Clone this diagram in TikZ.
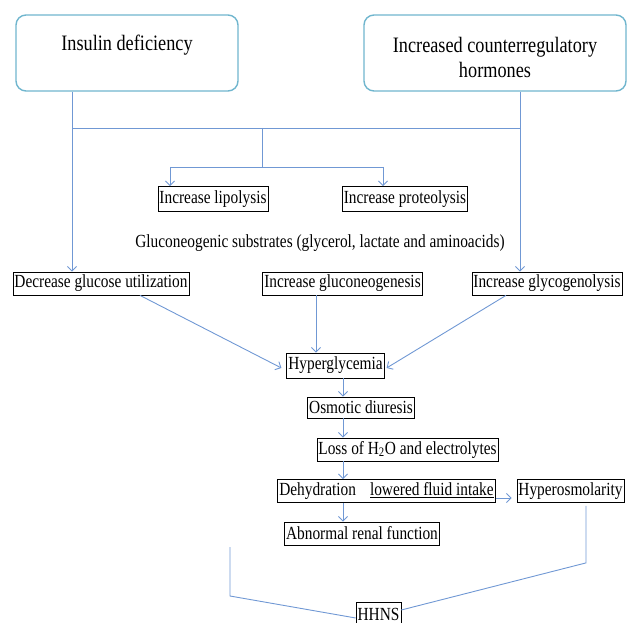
\documentclass[tikz,border=0pt]{standalone}
\usepackage{fontspec}
\setmainfont{Liberation Serif}[FakeStretch=0.83]
\usetikzlibrary{arrows.meta}
\definecolor{lineblue}{RGB}{112,152,212}
\definecolor{topblue}{RGB}{112,182,206}
\begin{document}
\begin{tikzpicture}[x=1pt,y=-1pt,
  box/.style={draw=black, line width=0.8pt, inner xsep=1.5pt, inner ysep=0pt, minimum height=23pt, font=\fontsize{18.5}{20}\selectfont},
  plain/.style={inner sep=0pt, font=\fontsize{18.5}{20}\selectfont},
  topbox/.style={draw=topblue, line width=1.4pt, rounded corners=10pt, minimum height=76pt},
  toptext/.style={inner sep=0pt, align=center, font=\fontsize{22}{25}\selectfont},
  conn/.style={draw=lineblue, line width=0.9pt},
  arr/.style={conn, -{Straight Barb[length=4.5pt,width=9pt]}}]
\useasboundingbox (0,0) rectangle (627,623);
% top boxes
\node[topbox, minimum width=222pt] (ins) at (127,53) {};
\node[toptext] (inst) at (127,45) {Insulin deficiency};
\node[topbox, minimum width=262pt] (ctr) at (495,53) {};
\node[toptext] (ctrt) at (495,57) {Increased counterregulatory\\hormones};
% boxes
\node[box, minimum height=25pt] (lip) at (213,199) {Increase lipolysis};
\node[box, minimum height=25pt] (pro) at (405,199) {Increase proteolysis};
\node[plain] (sub) at (320,243) {Gluconeogenic substrates (glycerol, lactate and aminoacids)};
\node[box] (dec) at (101,283.5) {Decrease glucose utilization};
\node[box] (gng) at (342.5,283.5) {Increase gluconeogenesis};
\node[box] (gly) at (547,283.5) {Increase glycogenolysis};
\node[box, minimum height=25pt] (hyp) at (335.5,365.5) {Hyperglycemia};
\node[box, minimum height=21pt] (osm) at (361,407.5) {Osmotic diuresis};
\node[box] (loss) at (407.5,449.5) {Loss of H\textsubscript{2}O and electrolytes};
\node[box] (dehy) at (386.5,491) {Dehydration\hspace{14pt}\underline{lowered fluid intake}};
\node[box] (hos) at (570.5,491) {Hyperosmolarity};
\node[box] (ren) at (362,533.5) {Abnormal renal function};
\node[box] (hhns) at (378.5,614) {HHNS};
% junctions
\coordinate (j1) at (72,128);
\coordinate (j2) at (520,128);
\coordinate (jm) at (262,128);
\coordinate (jb) at (262,167);
\coordinate (jl) at (170,167);
\coordinate (jr) at (383,167);
\coordinate (cx) at (343,0);
\coordinate (lf) at (230,547);
% connectors
\draw[conn] (j1) -- (j2);
\draw[arr] (ins.south -| j1) -- (dec.north -| j1);
\draw[arr] (ctr.south -| j2) -- (gly.north -| j2);
\draw[conn] (jm) -- (jb);
\draw[conn] (jl) -- (jr);
\draw[arr] (jl) -- (lip.north -| jl);
\draw[arr] (jr) -- (pro.north -| jr);
\draw[arr] ([xshift=39pt]dec.south) -- ([xshift=-5pt,yshift=-2.5pt]hyp.west);
\draw[arr] ([xshift=-26.5pt]gng.south) -- ([xshift=-19.5pt]hyp.north);
\draw[arr] ([xshift=-41pt]gly.south) -- ([xshift=2pt,yshift=-2.5pt]hyp.east);
\draw[arr] (hyp.south -| cx) -- (osm.north -| cx);
\draw[arr] (osm.south -| cx) -- (loss.north -| cx);
\draw[arr] (loss.south -| cx) -- (dehy.north -| cx);
\draw[arr] (dehy.south -| cx) -- (ren.north -| cx);
\draw[arr, shorten >=5pt] ([yshift=-7pt]dehy.east) -- ([yshift=-7pt]hos.west);
\draw[conn, shorten <=3pt] ([xshift=15.5pt]hos.south) -- ++(0,60) -- ([yshift=4pt]hhns.east);
\draw[conn] (lf) -- ++(0,49) -- ([yshift=-4pt]hhns.west);
\end{tikzpicture}
\end{document}
